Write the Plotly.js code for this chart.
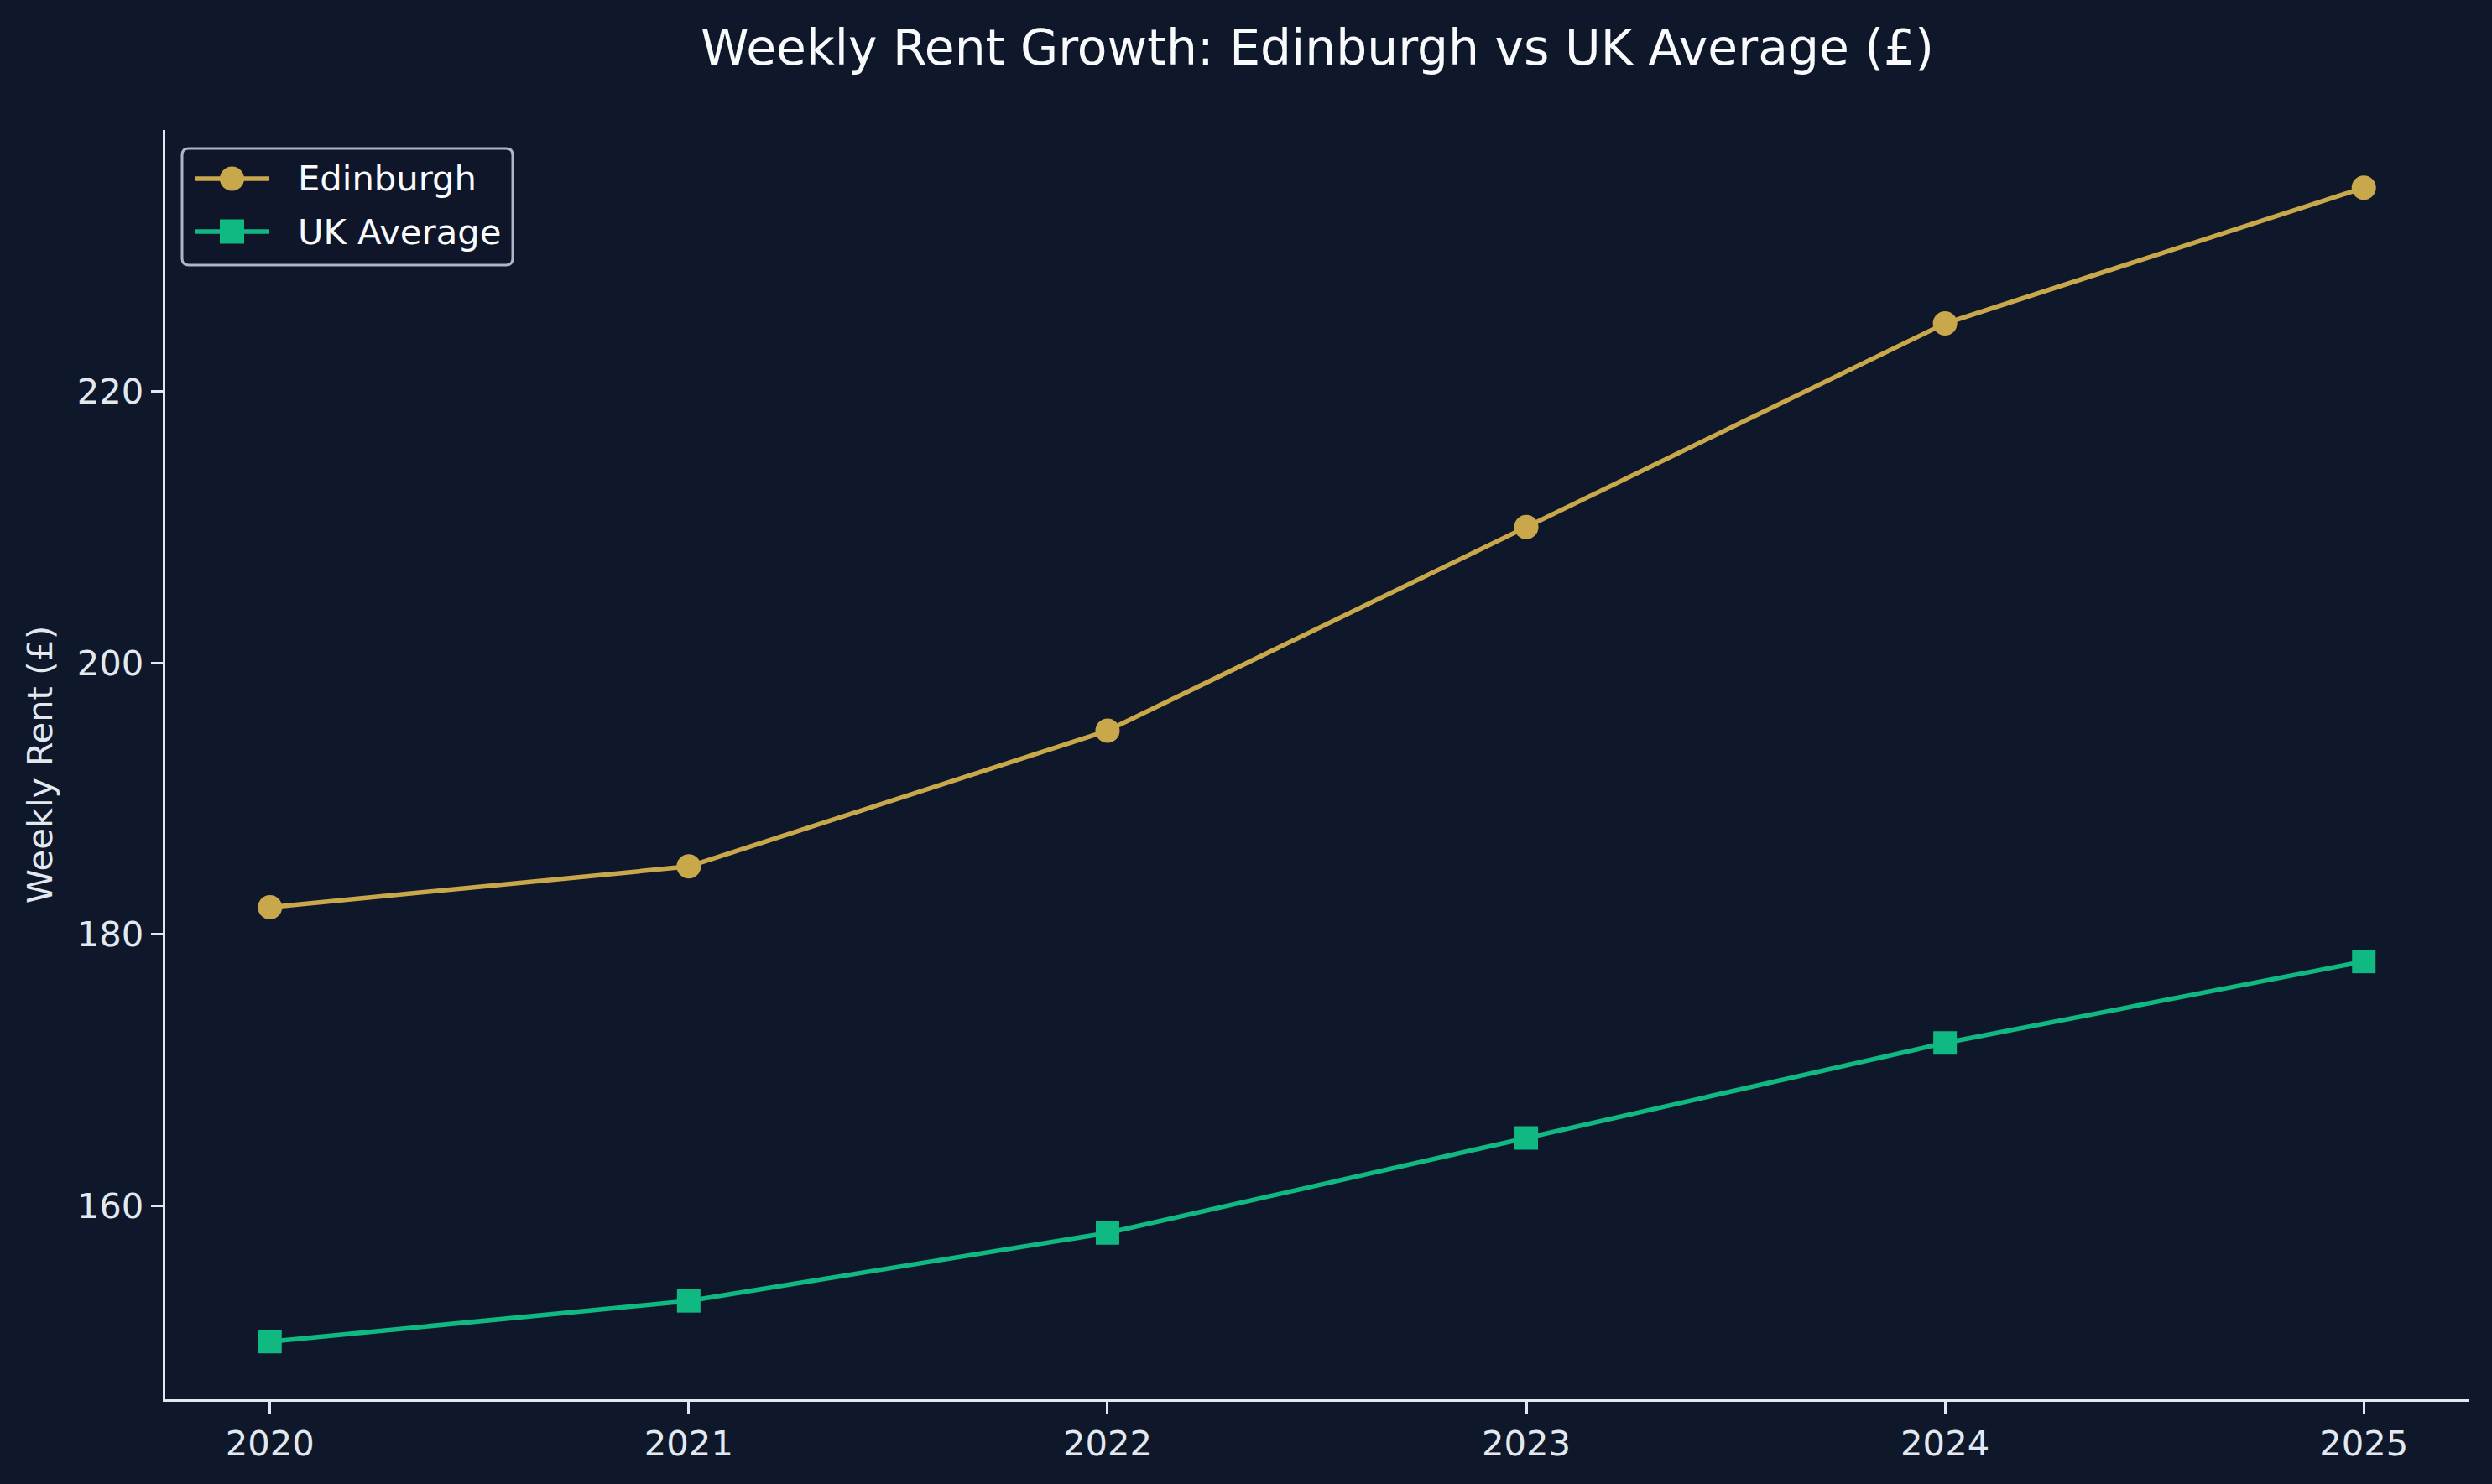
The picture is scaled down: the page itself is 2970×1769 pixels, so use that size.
<!DOCTYPE html>
<html>
<head>
<meta charset="utf-8">
<script src="https://cdn.plot.ly/plotly-3.0.1.min.js"></script>
<style>
  html, body { margin: 0; padding: 0; background: #0f172a; }
  #chart { width: 2970px; height: 1769px; }
</style>
</head>
<body>
<div id="chart"></div>
<script>
// Weekly rent, pounds per week
const years = [2020, 2021, 2022, 2023, 2024, 2025];
const yearLabels = ["2020", "2021", "2022", "2023", "2024", "2025"];
const edinburghRent = [182, 185, 195, 210, 225, 235];
const ukAverageRent = [150, 153, 158, 165, 172, 178];
const rentTicks = [160, 180, 200, 220];
const seriesNames = ["Edinburgh", "UK Average"];
const seriesColors = ["#c9a84c", "#10b981"];

const BG = "#0f172a";
const AXIS = "#e2e8f0";
const FONT = "DejaVu Sans, sans-serif";
const SMALL = 41.7;

// figure and plot-area geometry (pixels)
const W = 2970, H = 1769;
const M = { l: 197, r: 28, t: 155, b: 101 };
const plotW = W - M.l - M.r, plotH = H - M.t - M.b;
const px = v => (v - M.l) / plotW;          // pixel x -> paper x
const py = v => (H - M.b - v) / plotH;      // pixel y -> paper y

const traces = [
  {
    x: years, y: edinburghRent, name: seriesNames[0],
    type: "scatter", mode: "lines+markers",
    line: { color: seriesColors[0], width: 5.5 },
    marker: { symbol: "circle", size: 29, color: seriesColors[0] }
  },
  {
    x: years, y: ukAverageRent, name: seriesNames[1],
    type: "scatter", mode: "lines+markers",
    line: { color: seriesColors[1], width: 5.5 },
    marker: { symbol: "square", size: 28, color: seriesColors[1] }
  }
];

// legend box with rounded corners, drawn in paper coordinates
function roundedRect(x0, y0, x1, y1, r) {
  const pts = [
    ["M", x0 + r, y0], ["L", x1 - r, y0], ["Q", x1, y0, x1, y0 + r],
    ["L", x1, y1 - r], ["Q", x1, y1, x1 - r, y1], ["L", x0 + r, y1],
    ["Q", x0, y1, x0, y1 - r], ["L", x0, y0 + r], ["Q", x0, y0, x0 + r, y0]
  ];
  return pts.map(p => {
    const cmd = p[0], c = p.slice(1);
    const out = [];
    for (let i = 0; i < c.length; i += 2) out.push(px(c[i]).toFixed(6) + "," + py(c[i + 1]).toFixed(6));
    return cmd + out.join(" ");
  }).join(" ") + " Z";
}

const legendBox = { x0: 217, y0: 177, x1: 611, y1: 316 };
const rowY = [213, 276];
const glyphX0 = 232, glyphX1 = 321, glyphC = 276.5, textX = 353;
const mHalf = 14.5;

const shapes = [{
  type: "path", xref: "paper", yref: "paper", layer: "above",
  path: roundedRect(legendBox.x0, legendBox.y0, legendBox.x1, legendBox.y1, 8),
  fillcolor: "rgba(15,23,42,0.8)",
  line: { color: "rgba(203,210,222,0.85)", width: 3 }
}];
const annotations = [];
seriesNames.forEach((name, i) => {
  const yc = rowY[i];
  shapes.push({
    type: "line", xref: "paper", yref: "paper", layer: "above",
    x0: px(glyphX0), x1: px(glyphX1), y0: py(yc), y1: py(yc),
    line: { color: seriesColors[i], width: 5.5 }
  });
  shapes.push({
    type: i === 0 ? "circle" : "rect", xref: "paper", yref: "paper", layer: "above",
    x0: px(glyphC - mHalf), x1: px(glyphC + mHalf),
    y0: py(yc + mHalf), y1: py(yc - mHalf),
    fillcolor: seriesColors[i], line: { width: 0 }
  });
  annotations.push({
    xref: "paper", yref: "paper", x: px(textX), y: py(yc),
    xanchor: "left", yanchor: "middle", showarrow: false,
    text: name, font: { family: FONT, size: SMALL, color: "#f8fafc" }
  });
});

const layout = {
  width: W, height: H,
  paper_bgcolor: BG, plot_bgcolor: BG,
  font: { family: FONT, size: SMALL, color: AXIS },
  margin: { l: M.l, r: M.r, t: M.t, b: M.b, pad: 0 },
  title: {
    text: "Weekly Rent Growth: Edinburgh vs UK Average (£)",
    font: { family: FONT, size: 58.3, color: "#f8fafc" },
    x: 0.5286, xanchor: "center", y: 0.968, yanchor: "middle"
  },
  xaxis: {
    range: [2019.75, 2025.25],
    tickmode: "array", tickvals: years, ticktext: yearLabels,
    showgrid: false, zeroline: false,
    showline: true, linecolor: AXIS, linewidth: 3.3,
    ticks: "outside", ticklen: 14, tickwidth: 3, tickcolor: AXIS,
    tickfont: { family: FONT, size: SMALL, color: AXIS }
  },
  yaxis: {
    range: [145.75, 239.25],
    tickmode: "array", tickvals: rentTicks,
    showgrid: false, zeroline: false,
    showline: true, linecolor: AXIS, linewidth: 3.3,
    ticks: "outside", ticklen: 14, tickwidth: 3, tickcolor: AXIS,
    tickfont: { family: FONT, size: SMALL, color: AXIS },
    title: {
      text: "Weekly Rent (£)",
      font: { family: FONT, size: SMALL, color: AXIS },
      standoff: 17
    }
  },
  shapes: shapes,
  annotations: annotations,
  showlegend: false
};

Plotly.newPlot("chart", traces, layout, { staticPlot: true, displayModeBar: false });
</script>
</body>
</html>
